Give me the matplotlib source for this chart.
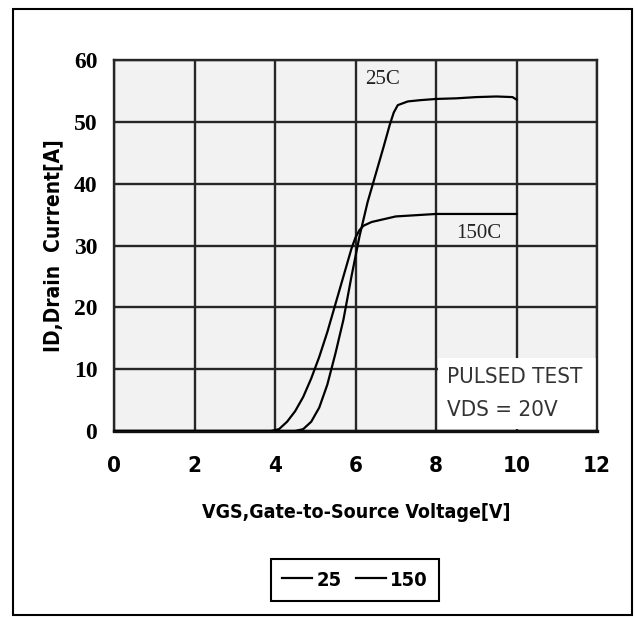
import matplotlib
matplotlib.use("Agg")
import matplotlib.pyplot as plt
from matplotlib.patches import Rectangle

# transfer characteristics
vgs_25 = [0, 4.5, 4.7, 4.9, 5.1, 5.3, 5.5, 5.7, 5.9, 6.1, 6.3, 6.5, 6.7, 6.85,
          6.95, 7.05, 7.3, 7.6, 8.0, 8.5, 9.0, 9.5, 9.9, 10.0]
id_25 = [0, 0, 0.3, 1.5, 3.8, 7.5, 12.5, 18, 25, 31.5, 37, 41.5, 46, 49.5,
         51.5, 52.7, 53.3, 53.5, 53.7, 53.8, 54.0, 54.1, 54.0, 53.6]

vgs_150 = [0, 3.9, 4.1, 4.3, 4.5, 4.7, 4.9, 5.1, 5.3, 5.5, 5.7, 5.9, 6.0, 6.1,
           6.2, 6.4, 6.6, 6.8, 7.0, 7.5, 8.0, 9.0, 10.0]
id_150 = [0, 0, 0.3, 1.5, 3.2, 5.5, 8.5, 12, 16, 20.5, 25, 29.5, 31.3, 32.5,
          33.2, 33.8, 34.1, 34.4, 34.7, 34.9, 35.1, 35.1, 35.1]

xticks = [0, 2, 4, 6, 8, 10, 12]
yticks = [0, 10, 20, 30, 40, 50, 60]
legend_labels = ["25", "150"]

narrow = ["DejaVu Sans"]
serif = ["Liberation Serif", "DejaVu Serif"]

W, H = 638, 617
fig = plt.figure(figsize=(W / 100, H / 100), dpi=100)
ax = fig.add_axes([114 / W, 1 - 431 / H, 483 / W, 371 / H])
ax.set_facecolor("#f2f2f2")

ax.set_xlim(0, 12)
ax.set_ylim(0, 60)
ax.set_xticks(xticks)
ax.set_yticks(yticks)
ax.grid(True, color="#262626", linewidth=1.7)
ax.set_axisbelow(True)
for side, sp in ax.spines.items():
    sp.set_color("#262626")
    sp.set_linewidth(1.7)
ax.spines["bottom"].set_linewidth(2.4)
ax.spines["bottom"].set_color("#111111")

ax.tick_params(length=0)
ax.tick_params(axis="x", pad=18)
ax.tick_params(axis="y", pad=12)
for lab in ax.get_xticklabels():
    lab.set_family(narrow)
    lab.set_stretch("condensed")
    lab.set_fontweight("bold")
    lab.set_fontsize(16)
for lab in ax.get_yticklabels():
    lab.set_family(serif)
    lab.set_fontweight("bold")
    lab.set_fontsize(17)

# white note box over the lower right cells
ax.add_patch(Rectangle((8.05, 0.25), 3.95, 11.5, facecolor="white",
                       edgecolor="none", zorder=1.5))

l25, = ax.plot(vgs_25, id_25, color="black", linewidth=1.6, zorder=3)
l150, = ax.plot(vgs_150, id_150, color="black", linewidth=1.6, zorder=3)

ax.text(6.68, 56.8, "25C", family=serif, fontsize=15, ha="center",
        va="center", color="#222222")
ax.text(9.07, 31.9, "150C", family=serif, fontsize=15, ha="center",
        va="center", color="#222222")
ax.text(8.28, 8.8, "PULSED TEST", family=narrow, stretch="condensed",
        fontsize=16, ha="left", va="center", color="#333333", zorder=4)
ax.text(8.28, 3.4, "VDS = 20V", family=narrow, stretch="condensed",
        fontsize=16, ha="left", va="center", color="#333333", zorder=4)

fig.text(356 / W, 1 - 513 / H, "VGS,Gate-to-Source Voltage[V]", family=narrow,
         stretch="condensed", fontweight="bold", fontsize=14, ha="center",
         va="center")
fig.text(53 / W, 1 - 246 / H, "ID,Drain  Current[A]", family=narrow,
         stretch="condensed", fontweight="bold", fontsize=15, ha="center",
         va="center", rotation=90)

leg = fig.legend([l25, l150], legend_labels, loc="center",
                 bbox_to_anchor=(355 / W, 1 - 580 / H), ncol=2,
                 fancybox=False, edgecolor="black", framealpha=1,
                 handlelength=1.5, handletextpad=0.2, columnspacing=0.7,
                 borderpad=0.55,
                 prop={"family": narrow, "stretch": "condensed",
                       "weight": "bold", "size": 14.5})
leg.get_frame().set_linewidth(1.5)

# outer frame round the whole chart
fig.patches.append(Rectangle((13 / W, 1 - 615 / H), 619 / W, 606 / H,
                             transform=fig.transFigure, fill=False,
                             edgecolor="black", linewidth=1.5))

fig.savefig("out.png", dpi=100)
